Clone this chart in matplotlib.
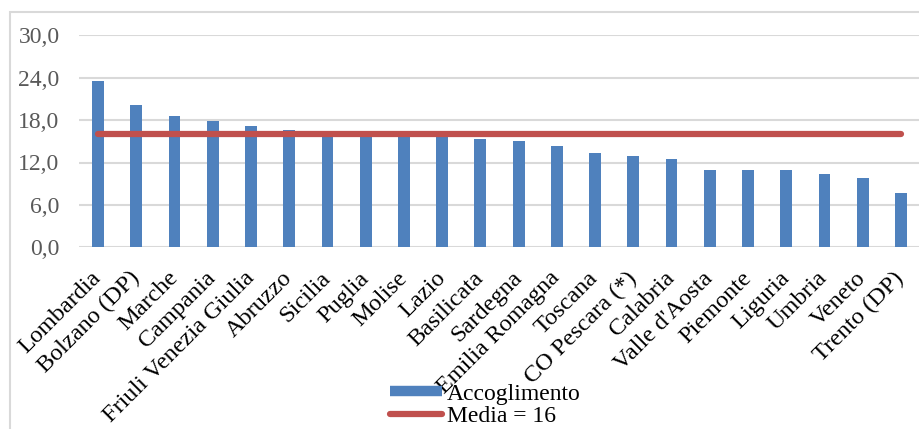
import matplotlib.pyplot as plt
from matplotlib.lines import Line2D
from matplotlib.patches import Rectangle

# data
regioni = ["Lombardia", "Bolzano (DP)", "Marche", "Campania", "Friuli Venezia Giulia",
           "Abruzzo", "Sicilia", "Puglia", "Molise", "Lazio", "Basilicata", "Sardegna",
           "Emilia Romagna", "Toscana", "CO Pescara (*)", "Calabria", "Valle d'Aosta",
           "Piemonte", "Liguria", "Umbria", "Veneto", "Trento (DP)"]
accoglimento = [23.6, 20.1, 18.6, 17.9, 17.2, 16.6, 16.4, 16.2, 16.1, 16.0, 15.3, 15.1,
                14.4, 13.3, 12.9, 12.5, 10.9, 10.9, 10.9, 10.4, 9.8, 7.7]
media = [16] * len(regioni)
y_ticks = [0, 6, 12, 18, 24, 30]
y_labels = ["0,0", "6,0", "12,0", "18,0", "24,0", "30,0"]

plt.rcParams['font.family'] = ['Liberation Serif', 'DejaVu Serif']

W, H = 920, 429
fig = plt.figure(figsize=(W / 100, H / 100), dpi=100)

# outer chart border (cropped Excel chart area)
fig.patches.append(Rectangle((10 / W, -0.1), 1.2, (H - 12) / H + 0.1,
                             transform=fig.transFigure, fill=False,
                             edgecolor="#d9d9d9", linewidth=1.5))

ax = fig.add_axes([79 / W, (H - 247.3) / H, (920 - 79) / W, (247.3 - 35.3) / H])
x = list(range(len(regioni)))
ax.bar(x, accoglimento, width=0.31, color="#4f81bd", zorder=2, label="Accoglimento")
ax.plot(x, media, color="#c0504d", linewidth=4.5, solid_capstyle="round", zorder=3,
        label="Media = 16")

ax.set_xlim(-0.5, len(regioni) - 0.5)
ax.set_ylim(0, 30)
ax.set_yticks(y_ticks)
ax.set_yticklabels(y_labels, color="#595959", fontsize=17)
ax.set_xticks(x)
ax.set_xticklabels(regioni, rotation=45, ha="right", va="center",
                   rotation_mode="anchor", fontsize=17.5)
ax.tick_params(axis="both", length=0)
ax.tick_params(axis="y", pad=14)
ax.tick_params(axis="x", pad=20)
ax.grid(axis="y", color="#d9d9d9", linewidth=1.5, zorder=0)
for s in ax.spines.values():
    s.set_visible(False)

handles = [Line2D([], [], color="#4f81bd", linewidth=7.5, solid_capstyle="butt"),
           Line2D([], [], color="#c0504d", linewidth=4.5, solid_capstyle="round")]
fig.legend(handles, ["Accoglimento", "Media = 16"], loc="upper left",
           bbox_to_anchor=(390 / W, (H - 383) / H), frameon=False, fontsize=17,
           handlelength=2.2, handletextpad=0.2, labelspacing=0.05,
           borderpad=0, borderaxespad=0)

fig.savefig("out.png", dpi=100)
